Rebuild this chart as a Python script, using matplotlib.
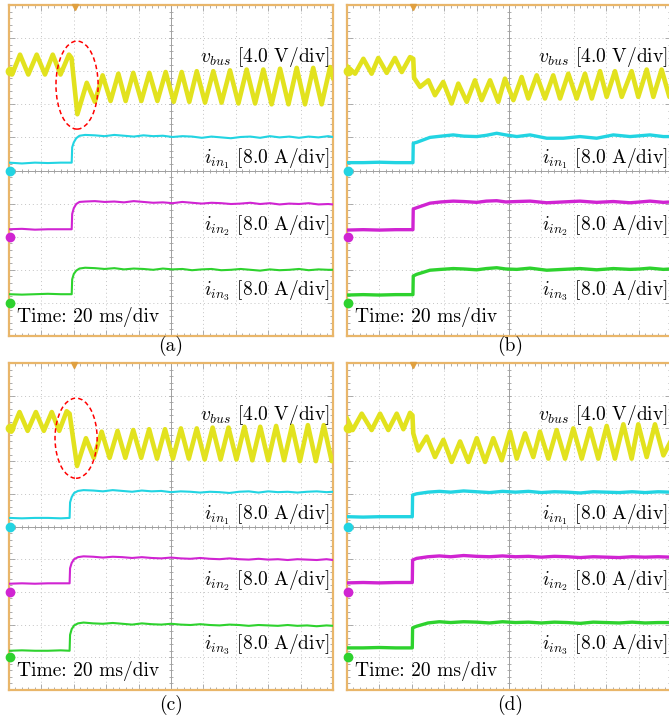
import matplotlib
matplotlib.use("Agg")
import matplotlib.pyplot as plt
from matplotlib.patches import Ellipse
import numpy as np

plt.rcParams['mathtext.fontset'] = 'cm'
plt.rcParams['font.family'] = ['cmr10', 'DejaVu Serif']
plt.rcParams['axes.unicode_minus'] = False

# ---------------- Scope channel settings ----------------
V_SCALE = 4.0      # V/div
I_SCALE = 8.0      # A/div
CH_LEVEL = {'vbus': 8.0, 'iin1': 5.0, 'iin2': 3.0, 'iin3': 1.0}   # marker position (div)

YELLOW = '#e2e21e'
CYAN = '#22d4e2'
MAGENTA = '#d024d2'
GREEN = '#2ed22e'
BORDER = '#e9b66a'

# ---------------- Panel (a) ----------------
a_t_vbus = [0, 1.9, 6.8, 11.9, 17.1, 22.2, 27.0, 31.8, 37.0, 38.6, 42.2,
            48.0, 53.0, 57.8, 62.7, 67.5, 72.0, 76.7, 81.7, 86.6, 91.6, 96.7,
            101.7, 106.6, 111.3, 115.9, 121.0, 126.1, 131.2, 136.4, 141.6,
            146.7, 151.9, 157.0, 162.1, 167.3, 172.5, 177.6, 182.7, 187.8,
            193.0, 198.2, 200]
a_vbus = [0.2, -0.4, 2.0, -0.4, 2.0, -0.4, 2.0, -0.4, 2.0, 1.6, -5.2,
          -1.4, -3.7, -0.5, -3.6, -0.3, -3.6, -0.2, -3.6, -0.2, -3.6, -0.1,
          -3.7, -0.1, -3.7, 0.0, -3.8, 0.0, -3.8, 0.1, -3.9,
          0.2, -3.9, 0.2, -4.0, 0.3, -4.0, 0.4, -4.0, 0.4,
          -4.0, 0.5, -0.8]
a_t_cur = [0, 8, 16, 24, 32, 38.7, 39.0, 40.0, 41.5, 43.5,
           47, 53, 59, 65, 71, 77, 83, 89, 95, 101, 107, 113, 119, 125, 131,
           137, 143, 149, 155, 161, 167, 173, 179, 185, 191, 197, 200]
a_iin1 = [1.9, 1.7, 1.9, 1.8, 1.9, 1.9, 5.6, 6.8, 7.8, 8.4,
          8.6, 8.5, 8.3, 8.6, 8.4, 8.2, 8.5, 8.3, 8.4, 8.1, 8.3, 8.2, 7.9,
          8.2, 8.0, 7.8, 8.1, 8.2, 7.9, 8.3, 8.0, 8.2, 7.9, 8.2, 8.0, 8.3, 8.1]
a_iin2 = [1.8, 1.9, 1.7, 1.8, 1.8, 1.8, 5.5, 6.9, 7.9, 8.4,
          8.5, 8.6, 8.4, 8.5, 8.3, 8.6, 8.4, 8.2, 8.3, 8.1, 8.4, 8.2, 8.0,
          8.2, 8.1, 7.9, 8.0, 8.2, 7.9, 8.1, 7.8, 8.0, 7.9, 8.1, 7.8, 7.9, 7.8]
a_iin3 = [2.1, 2.0, 2.1, 2.2, 2.1, 2.1, 5.7, 7.0, 7.8, 8.3,
          8.5, 8.4, 8.2, 8.4, 8.1, 8.3, 8.2, 8.0, 8.3, 8.1, 8.2, 7.9, 8.1,
          8.2, 7.9, 8.0, 8.2, 8.0, 7.8, 8.1, 7.9, 8.0, 8.2, 7.9, 8.1, 8.0, 8.0]

# ---------------- Panel (b) ----------------
b_t_vbus = [0, 5.0, 10.1, 15.2, 19.3, 24.5, 29.6, 33.8, 38.9, 40.9, 41.4,
            45.1, 50.2, 54.3, 59.4, 64.6, 68.7, 73.9, 79.0, 83.1, 88.3, 93.4,
            97.5, 102.7, 107.8, 111.9, 117.1, 122.2, 127.3, 131.5, 136.6,
            141.8, 146.9, 151.1, 156.2, 160.3, 165.4, 169.6, 175.7, 179.8,
            185.0, 189.1, 194.2, 199.0, 200]
b_vbus = [0.6, -0.3, 1.5, -0.3, 1.6, -0.2, 1.6, -0.1, 1.7, 1.5, -0.8,
          -1.9, -1.1, -2.9, -1.3, -3.9, -1.5, -3.7, -1.1, -3.5, -1.1, -3.7,
          -0.9, -3.5, -0.7, -3.3, -0.5, -3.3, -0.5, -3.3, -0.3,
          -3.3, -0.3, -3.3, 0.0, -3.1, 0.0, -3.1, 0.0, -3.1,
          0.2, -3.1, 0.2, -3.1, -2.7]
b_t_cur = [0, 10, 20, 30, 40.7, 40.9, 43.0, 51.2, 58, 65.6, 72, 80.1, 86,
           92.4, 98, 104.8, 113.0, 123.3, 133.5, 143.8, 154.1, 164.4, 174.7,
           181, 187.0, 195.3, 200]
b_iin1 = [1.9, 1.9, 2.0, 1.9, 1.9, 6.6, 6.8, 8.0, 8.3, 8.6, 8.3, 8.2, 8.5,
          9.0, 8.6, 8.2, 8.6, 7.8, 7.8, 8.2, 7.8, 8.6, 8.2, 8.4, 8.6, 8.2, 8.2]
b_iin2 = [1.6, 1.7, 1.6, 1.7, 1.7, 6.7, 7.0, 8.1, 8.4, 8.6, 8.5, 8.3, 8.6,
          8.7, 8.4, 8.5, 8.6, 8.2, 8.4, 8.6, 8.3, 8.5, 8.2, 8.4, 8.6, 8.3, 8.4]
b_iin3 = [1.9, 2.0, 1.9, 2.0, 2.0, 6.5, 6.9, 7.9, 8.1, 8.3, 8.2, 8.0, 8.3,
          8.5, 8.2, 8.1, 8.4, 7.9, 8.1, 8.3, 8.0, 8.3, 8.1, 8.2, 8.4, 8.1, 8.2]

# ---------------- Panel (c) ----------------
c_t_vbus = [0, 1.5, 6.5, 11.5, 16.6, 21.5, 26.4, 31.0, 35.6, 37.4, 42.0,
            47.5, 52.3, 57.2, 62.1, 67.0, 71.8, 76.7, 81.6, 86.5, 91.4, 96.3,
            101.2, 106.1, 111.0, 115.9, 120.8, 125.7, 130.6, 135.5, 140.4,
            145.3, 150.2, 155.1, 160.0, 164.9, 169.8, 174.7, 179.6, 184.5,
            189.4, 194.3, 199.2, 200]
c_vbus = [0.2, -0.4, 2.0, -0.3, 2.0, -0.3, 2.0, -0.3, 2.1, 1.8, -4.6,
          -1.2, -3.6, -0.4, -3.6, -0.3, -3.6, -0.2, -3.6, -0.1, -3.7, -0.1,
          -3.7, 0.0, -3.7, 0.0, -3.8, 0.1, -3.8, 0.1, -3.8,
          0.2, -3.9, 0.2, -3.9, 0.3, -3.9, 0.3, -4.0, 0.4,
          -4.0, 0.4, -4.0, -3.6]
c_t_cur = [0, 8, 16, 24, 32, 37.4, 37.7, 38.7, 40.2, 42.6,
           46, 52, 58, 64, 70, 76, 82, 88, 94, 100, 106, 112, 118, 124, 130,
           136, 142, 148, 154, 160, 166, 172, 178, 184, 190, 196, 200]
c_iin1 = [2.1, 2.0, 2.1, 2.1, 2.0, 2.1, 5.9, 7.2, 8.2, 8.7,
          8.9, 8.8, 8.6, 8.9, 8.7, 8.5, 8.8, 8.6, 8.7, 8.4, 8.6, 8.5, 8.3,
          8.5, 8.4, 8.2, 8.5, 8.6, 8.3, 8.6, 8.4, 8.5, 8.3, 8.5, 8.6, 8.4, 8.5]
c_iin2 = [2.0, 2.1, 2.0, 2.1, 2.1, 2.1, 5.8, 7.1, 8.0, 8.5,
          8.7, 8.6, 8.4, 8.6, 8.5, 8.3, 8.5, 8.3, 8.2, 8.4, 8.2, 8.1, 8.3,
          8.1, 8.0, 8.2, 8.0, 7.9, 8.1, 7.9, 8.0, 7.8, 8.0, 7.9, 7.8, 8.0, 7.8]
c_iin3 = [1.6, 1.7, 1.6, 1.6, 1.7, 1.6, 5.5, 6.9, 7.8, 8.3,
          8.5, 8.3, 8.2, 8.4, 8.2, 8.0, 8.3, 8.1, 8.0, 8.2, 8.0, 7.9, 8.1,
          7.9, 7.8, 8.0, 7.9, 7.7, 7.9, 7.8, 7.7, 7.9, 7.7, 7.8, 7.6, 7.8, 7.7]

# ---------------- Panel (d) ----------------
d_t_vbus = [0, 3.5, 9.1, 15.2, 20.4, 25.5, 30.7, 34.8, 38.9, 40.4, 40.9,
            44.0, 49.2, 54.3, 59.5, 64.6, 69.8, 74.9, 80.1, 85.2, 90.3, 95.5,
            100.6, 104.8, 109.9, 115.0, 119.1, 124.3, 129.4, 134.6, 139.7,
            144.9, 150.0, 155.1, 160.3, 165.4, 170.6, 175.7, 179.8, 185.0,
            190.1, 195.3, 200]
d_vbus = [1.2, -0.2, 1.8, -0.2, 1.8, -0.2, 1.8, -0.1, 1.9, 1.6, -0.6,
          -2.7, -1.0, -3.5, -1.4, -4.1, -1.6, -4.1, -1.2, -4.1, -1.2, -3.9,
          -0.4, -3.7, -0.6, -3.5, -0.4, -3.7, -0.2, -3.7, 0.0,
          -3.7, 0.0, -3.7, 0.3, -3.7, 0.5, -3.7, 0.5, -3.5,
          0.5, -3.3, -1.5]
d_t_cur = [0, 10, 20, 30, 40.3, 40.5, 43, 50, 57, 64, 72, 80, 88, 96, 104,
           112, 120, 128, 136, 144, 152, 160, 168, 176, 184, 192, 200]
d_iin1 = [2.4, 2.3, 2.4, 2.4, 2.4, 7.7, 8.0, 8.4, 8.6, 8.4, 8.7, 8.5, 8.3,
          8.6, 8.4, 8.6, 8.3, 8.5, 8.4, 8.2, 8.5, 8.4, 8.3, 8.5, 8.3, 8.5, 8.4]
d_iin2 = [2.2, 2.3, 2.2, 2.3, 2.3, 7.8, 8.2, 8.6, 8.8, 8.6, 8.9, 8.7, 8.6,
          8.8, 8.6, 8.7, 8.5, 8.7, 8.6, 8.4, 8.6, 8.5, 8.4, 8.6, 8.5, 8.6, 8.5]
d_iin3 = [2.3, 2.3, 2.4, 2.3, 2.3, 7.2, 7.6, 8.4, 8.7, 8.5, 8.7, 8.6, 8.4,
          8.7, 8.5, 8.6, 8.4, 8.6, 8.5, 8.3, 8.6, 8.5, 8.4, 8.6, 8.4, 8.5, 8.5]


# ---------------- Drawing helpers ----------------
def scope_grid(ax):
    ax.set_xlim(0, 200)
    ax.set_ylim(0, 10)
    for x in range(20, 200, 20):
        if x != 100:
            ax.axvline(x, color='#c4c4c4', lw=0.7, ls=(0, (1, 3)), zorder=0)
    for y in range(1, 10):
        if y != 5:
            ax.axhline(y, color='#c4c4c4', lw=0.7, ls=(0, (1, 3)), zorder=0)
    ax.axvline(100, color='#a0a0a0', lw=0.7, zorder=0)
    ax.axhline(5, color='#a0a0a0', lw=0.7, zorder=0)
    # small ticks on the centre lines
    ax.plot(np.arange(0, 201, 4), np.full(51, 5.0), '|', color='#a0a0a0', ms=3, mew=0.6, zorder=0)
    ax.plot(np.full(51, 100.0), np.arange(0, 10.01, 0.2), '_', color='#a0a0a0', ms=3, mew=0.6, zorder=0)
    ax.set_xticks(np.arange(0, 201, 20))
    ax.set_xticks(np.arange(0, 201, 4), minor=True)
    ax.set_yticks(np.arange(0, 11, 1))
    ax.set_yticks(np.arange(0, 10.01, 0.2), minor=True)
    ax.tick_params(which='both', direction='in', top=True, right=True,
                   labelbottom=False, labelleft=False, color='#a0a0a0', width=0.6)
    ax.tick_params(which='major', length=4)
    ax.tick_params(which='minor', length=2.5)
    for s in ax.spines.values():
        s.set_color(BORDER)
        s.set_linewidth(1.6)


def draw_panel(ax, t_v, vbus, t_i, i1, i2, i3, thick, step_t, circle=None):
    scope_grid(ax)
    lw_i = 2.4 if thick else 1.5
    ax.plot(t_v, CH_LEVEL['vbus'] + np.array(vbus) / V_SCALE, color=YELLOW, lw=3.3, zorder=3)
    ax.plot(t_i, CH_LEVEL['iin1'] + np.array(i1) / I_SCALE, color=CYAN, lw=lw_i, zorder=3)
    ax.plot(t_i, CH_LEVEL['iin2'] + np.array(i2) / I_SCALE, color=MAGENTA, lw=lw_i, zorder=3)
    ax.plot(t_i, CH_LEVEL['iin3'] + np.array(i3) / I_SCALE, color=GREEN, lw=lw_i, zorder=3)

    # channel ground markers and trigger mark
    for key, col in zip(['vbus', 'iin1', 'iin2', 'iin3'], [YELLOW, CYAN, MAGENTA, GREEN]):
        ax.plot(0.6, CH_LEVEL[key], 'o', color=col, ms=6, clip_on=False, zorder=5)
    ax.plot(step_t, 9.93, 'v', color='#e0a040', ms=4, clip_on=False, zorder=5)

    if circle is not None:
        ax.add_patch(Ellipse(circle[:2], circle[2], circle[3], angle=0, fill=False,
                             ec='red', ls=(0, (3, 2)), lw=1.1, zorder=6))

    fs = 14
    ax.text(0.99, 8.27, r'$v_{bus}$ [4.0 V/div]', transform=ax.get_yaxis_transform(),
            ha='right', va='baseline', fontsize=fs, zorder=7)
    ax.text(0.99, 5.21, r'$i_{in_1}$ [8.0 A/div]', transform=ax.get_yaxis_transform(),
            ha='right', va='baseline', fontsize=fs, zorder=7)
    ax.text(0.99, 3.19, r'$i_{in_2}$ [8.0 A/div]', transform=ax.get_yaxis_transform(),
            ha='right', va='baseline', fontsize=fs, zorder=7)
    ax.text(0.99, 1.23, r'$i_{in_3}$ [8.0 A/div]', transform=ax.get_yaxis_transform(),
            ha='right', va='baseline', fontsize=fs, zorder=7)
    ax.text(0.025, 0.43, 'Time: 20 ms/div', transform=ax.get_yaxis_transform(),
            ha='left', va='baseline', fontsize=fs, zorder=7)


# ---------------- Main Program ----------------
W, H = 669, 719
fig = plt.figure(figsize=(W / 100, H / 100), dpi=100)

ax_a = fig.add_axes([9 / W, (H - 336) / H, 324 / W, 331 / H])
ax_b = fig.add_axes([347 / W, (H - 336) / H, 324 / W, 331 / H])
ax_c = fig.add_axes([9 / W, (H - 690) / H, 324 / W, 327 / H])
ax_d = fig.add_axes([347 / W, (H - 690) / H, 324 / W, 327 / H])

draw_panel(ax_a, a_t_vbus, a_vbus, a_t_cur, a_iin1, a_iin2, a_iin3, False, 40.5,
           circle=(42.0, 7.58, 26, 2.66))
draw_panel(ax_b, b_t_vbus, b_vbus, b_t_cur, b_iin1, b_iin2, b_iin3, True, 40.9)
draw_panel(ax_c, c_t_vbus, c_vbus, c_t_cur, c_iin1, c_iin2, c_iin3, False, 40.0,
           circle=(41.4, 7.7, 26, 2.45))
draw_panel(ax_d, d_t_vbus, d_vbus, d_t_cur, d_iin1, d_iin2, d_iin3, True, 40.5)

for label, xc, yc in [('(a)', 171, 346), ('(b)', 510, 346), ('(c)', 171, 705), ('(d)', 510, 705)]:
    fig.text(xc / W, 1 - yc / H, label, ha='center', va='center', fontsize=14)

fig.savefig('out.png', dpi=100)
